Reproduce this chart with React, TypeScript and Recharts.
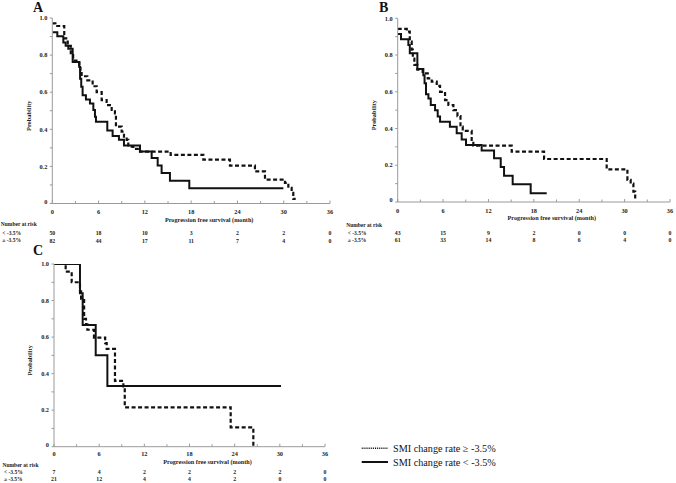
import React from 'react';
import { LineChart, Line, XAxis, YAxis, Label } from 'recharts';

// ---------- data ----------
const X_TICKS = [0, 3, 6, 9, 12, 15, 18, 21, 24, 27, 30, 33, 36];
const Y_TICKS = [0, 0.1, 0.2, 0.3, 0.4, 0.5, 0.6, 0.7, 0.8, 0.9, 1.0];

// Panel A
const A_LESS_T = [0, 0.65, 1.43, 1.73, 2.07, 2.64, 3.5, 3.6, 3.75, 3.93, 4.36, 4.88, 5.32, 5.53, 5.66, 7.13, 7.82, 8.64, 9.29, 11.37, 12.88, 13.66, 14.17, 15.25, 17.76, 29.95];
const A_LESS_S = [0.923, 0.902, 0.868, 0.85, 0.834, 0.763, 0.736, 0.673, 0.629, 0.584, 0.561, 0.539, 0.504, 0.468, 0.441, 0.393, 0.364, 0.343, 0.3125, 0.28, 0.245, 0.205, 0.164, 0.123, 0.082, 0.082];
const A_GEQ_T = [0, 0.4, 1.55, 2.0, 2.4, 2.7, 3.5, 3.65, 3.8, 4.54, 5.23, 5.75, 6.4, 7.04, 7.7, 8.12, 8.25, 8.99, 9.29, 9.64, 9.85, 10.5, 11.37, 15.34, 19.58, 23.03, 26.27, 27.57, 30.16, 30.6, 31.03, 31.24, 31.55];
const A_GEQ_S = [0.971, 0.957, 0.89, 0.85, 0.8, 0.77, 0.745, 0.71, 0.686, 0.664, 0.632, 0.6, 0.557, 0.53, 0.504, 0.486, 0.414, 0.3875, 0.36, 0.343, 0.307, 0.295, 0.28, 0.2625, 0.236, 0.204, 0.173, 0.129, 0.111, 0.084, 0.057, 0.025, 0.025];
const A_RISK_LESS = [50, 18, 10, 3, 2, 2, 0];
const A_RISK_GEQ = [82, 44, 17, 11, 7, 4, 0];

// Panel B
const B_LESS_T = [0, 0.44, 1.41, 1.6, 2.6, 3.39, 3.55, 3.74, 4.06, 4.37, 4.94, 5.29, 5.6, 6.9, 7.8, 8.46, 9.03, 11.1, 12.74, 13.62, 14.06, 15.2, 17.58, 19.7];
const B_LESS_S = [0.915, 0.886, 0.855, 0.81, 0.724, 0.69, 0.646, 0.586, 0.564, 0.528, 0.5, 0.465, 0.437, 0.41, 0.374, 0.34, 0.31, 0.28, 0.238, 0.19, 0.143, 0.096, 0.047, 0.047];
const B_GEQ_T = [0, 1.2, 1.6, 1.85, 2.0, 2.2, 2.6, 3.3, 3.97, 4.5, 5.16, 5.6, 6.26, 6.7, 7.36, 7.9, 8.3, 8.6, 9.78, 10.0, 15.07, 19.35, 27.63, 30.37, 30.8, 31.16, 31.4, 31.5];
const B_GEQ_S = [0.942, 0.927, 0.873, 0.83, 0.78, 0.746, 0.72, 0.7, 0.673, 0.655, 0.632, 0.6, 0.555, 0.528, 0.5, 0.468, 0.41, 0.387, 0.33, 0.307, 0.274, 0.234, 0.178, 0.12, 0.1, 0.056, 0.018, 0.018];
const B_RISK_LESS = [43, 15, 9, 2, 0, 0, 0];
const B_RISK_GEQ = [61, 33, 14, 8, 6, 4, 0];

// Panel C
const C_LESS_T = [0, 3.45, 3.81, 5.54, 7.09, 30.16];
const C_LESS_S = [1.0, 0.84, 0.666, 0.5, 0.332, 0.332];
const C_GEQ_T = [0, 1.55, 2.35, 3.45, 3.6, 4.0, 4.25, 4.43, 5.31, 6.8, 7.0, 8.1, 9.21, 9.4, 23.47, 26.48];
const C_GEQ_S = [1.0, 0.958, 0.9, 0.85, 0.81, 0.7, 0.67, 0.64, 0.597, 0.567, 0.535, 0.36, 0.33, 0.215, 0.106, 0];
const C_RISK_LESS = [7, 4, 2, 2, 2, 2, 0];
const C_RISK_GEQ = [21, 12, 4, 4, 2, 0, 0];

const ROW_LABELS = ['< -3.5%', '\u2265 -3.5%'];
const LEGEND_LABELS = ['SMI change rate \u2265 -3.5%', 'SMI change rate < -3.5%'];

// ---------- styling ----------
const FONT = '"Liberation Serif", "Times New Roman", serif';
const AXIS = '#9a9a9a';
const TXT = '#222';

const pts = (t: number[], s: number[]) => t.map((v, i) => ({ t: v, s: s[i] }));

type Offs = { tick: number; title: number; nar: number; r1: number; r2: number };

const makeXTick = (riskLess: number[], riskGeq: number[], o: Offs) => (props: any) => {
  const { x, y, payload } = props;
  const v = payload.value as number;
  const major = v % 6 === 0;
  const idx = v / 6;
  const c = (d: number, fs: number) => y + d + fs * 0.35;
  return (
    <g>
      <line x1={x} x2={x} y1={y} y2={y - (major ? 3 : 2.5)} stroke={AXIS} strokeWidth={1} />
      {major && (
        <text x={x} y={c(o.tick, 6.3)} textAnchor="middle" fontSize={6.3} fontWeight="bold" fill={TXT} fontFamily={FONT}>
          {v}
        </text>
      )}
      {major && (
        <text x={x} y={c(o.r1, 5.8)} textAnchor="middle" fontSize={5.8} fontWeight="bold" fill={TXT} fontFamily={FONT}>
          {riskLess[idx]}
        </text>
      )}
      {major && (
        <text x={x} y={c(o.r2, 5.8)} textAnchor="middle" fontSize={5.8} fontWeight="bold" fill={TXT} fontFamily={FONT}>
          {riskGeq[idx]}
        </text>
      )}
      {v === 18 && (
        <text x={x + 18} y={c(o.title, 6.2)} textAnchor="middle" fontSize={6.2} fontWeight="bold" fill={TXT} fontFamily={FONT}>
          Progression free survival (month)
        </text>
      )}
      {v === 0 && (
        <g fontFamily={FONT} fontWeight="bold" fill={TXT}>
          <text x={x - 51.5} y={c(o.nar, 5.5)} fontSize={5.5}>Number at risk</text>
          <text x={x - 50} y={c(o.r1, 5.5)} fontSize={5.5}>{ROW_LABELS[0]}</text>
          <text x={x - 50} y={c(o.r2, 5.5)} fontSize={5.5}>{ROW_LABELS[1]}</text>
        </g>
      )}
    </g>
  );
};

const YTick = (props: any) => {
  const { x, y, payload } = props;
  const v = payload.value as number;
  const major = Math.round(v * 10) % 2 === 0;
  return (
    <g>
      <line x1={x} x2={x - 2.5} y1={y} y2={y} stroke={AXIS} strokeWidth={1} />
      {major && (
        <text x={x - 5} y={y + 2.2 - (v === 0 ? 2 : 0)} textAnchor="end" fontSize={6.3} fontWeight="bold" fill={TXT} fontFamily={FONT}>
          {v === 0 ? '0' : v.toFixed(1)}
        </text>
      )}
    </g>
  );
};

const probLabel = (p: any) => {
  const vb = p.viewBox || {};
  const cx = vb.x + vb.width - 24;
  const cy = vb.y + vb.height / 2 + 5;
  return (
    <text x={cx} y={cy} transform={`rotate(-90 ${cx} ${cy})`} textAnchor="middle" dominantBaseline="central" fontSize={6.3} fontWeight="bold" fill={TXT} fontFamily={FONT}>
      Probability
    </text>
  );
};

type PanelProps = {
  left: number; top: number; width: number; height: number;
  mTop: number; mRight: number; yW: number; xH: number;
  less: { t: number; s: number }[]; geq: { t: number; s: number }[];
  riskLess: number[]; riskGeq: number[]; offs: Offs;
};

function KMPanel(p: PanelProps) {
  const XTick = makeXTick(p.riskLess, p.riskGeq, p.offs);
  return (
    <div style={{ position: 'absolute', left: p.left, top: p.top, width: p.width, height: p.height }}>
      <LineChart width={p.width} height={p.height} margin={{ top: p.mTop, right: p.mRight, bottom: 0, left: 0 }}>
        <XAxis
          dataKey="t" type="number" domain={[0, 36]} ticks={X_TICKS} interval={0}
          height={p.xH} tickSize={0} tickMargin={0} tickLine={false}
          axisLine={{ stroke: AXIS, strokeWidth: 1 }} tick={XTick} allowDataOverflow
        />
        <YAxis
          type="number" domain={[0, 1]} ticks={Y_TICKS} interval={0}
          width={p.yW} tickSize={0} tickMargin={0} tickLine={false}
          axisLine={{ stroke: AXIS, strokeWidth: 1 }} tick={YTick} allowDataOverflow
        >
          <Label content={probLabel} />
        </YAxis>
        <Line data={p.geq} dataKey="s" type="stepAfter" stroke="#111" strokeWidth={2.2} strokeDasharray="4 2.5" dot={false} activeDot={false} isAnimationActive={false} />
        <Line data={p.less} dataKey="s" type="stepAfter" stroke="#111" strokeWidth={2} dot={false} activeDot={false} isAnimationActive={false} />
      </LineChart>
    </div>
  );
}

const letterStyle = (left: number, top: number): React.CSSProperties => ({
  position: 'absolute', left, top, fontFamily: FONT, fontWeight: 'bold', fontSize: 14, lineHeight: '16px', color: '#111',
});

export default function App() {
  return (
    <div style={{ position: 'absolute', left: 0, top: 0, width: 676, height: 483, background: '#fff', overflow: 'hidden' }}>
      <KMPanel left={0} top={0} width={340} height={250} mTop={18} mRight={10} yW={52.3} xH={46.5}
        less={pts(A_LESS_T, A_LESS_S)} geq={pts(A_GEQ_T, A_GEQ_S)} riskLess={A_RISK_LESS} riskGeq={A_RISK_GEQ}
        offs={{ tick: 8.4, title: 16.7, nar: 21, r1: 29.4, r2: 37 }} />
      <KMPanel left={340} top={0} width={336} height={250} mTop={18.3} mRight={6} yW={57.7} xH={48}
        less={pts(B_LESS_T, B_LESS_S)} geq={pts(B_GEQ_T, B_GEQ_S)} riskLess={B_RISK_LESS} riskGeq={B_RISK_GEQ}
        offs={{ tick: 8.3, title: 15.6, nar: 23, r1: 30.7, r2: 38 }} />
      <KMPanel left={0} top={250} width={340} height={233} mTop={14} mRight={15} yW={54} xH={36.3}
        less={pts(C_LESS_T, C_LESS_S)} geq={pts(C_GEQ_T, C_GEQ_S)} riskLess={C_RISK_LESS} riskGeq={C_RISK_GEQ}
        offs={{ tick: 7, title: 15, nar: 18, r1: 25, r2: 32.5 }} />
      <div style={letterStyle(33, 0)}>A</div>
      <div style={letterStyle(379, 0)}>B</div>
      <div style={letterStyle(33, 243)}>C</div>
      <svg style={{ position: 'absolute', left: 0, top: 0 }} width={676} height={483} pointerEvents="none">
        <line x1={361.7} x2={388} y1={448.3} y2={448.3} stroke="#111" strokeWidth={1.4} strokeDasharray="1 0.9" />
        <line x1={361.7} x2={388} y1={462} y2={462} stroke="#111" strokeWidth={2} />
        <text x={393} y={451.8} fontSize={10.2} fontFamily={FONT} fill="#111">{LEGEND_LABELS[0]}</text>
        <text x={393} y={465.5} fontSize={10.2} fontFamily={FONT} fill="#111">{LEGEND_LABELS[1]}</text>
      </svg>
    </div>
  );
}
